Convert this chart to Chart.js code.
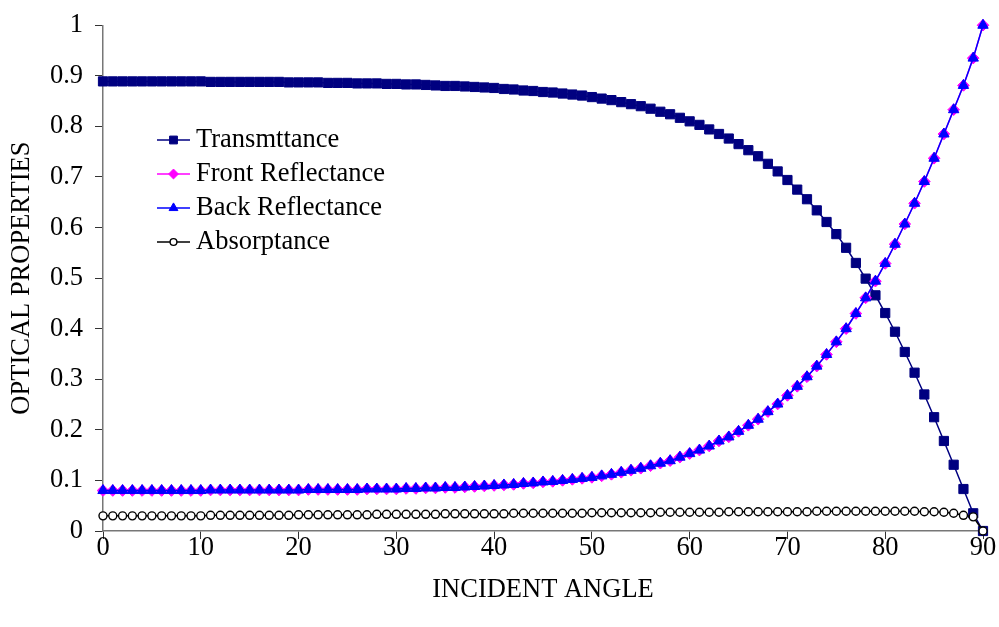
<!DOCTYPE html>
<html>
<head>
<meta charset="utf-8">
<script src="https://cdn.jsdelivr.net/npm/chart.js@4"></script>
<style>
  html, body { margin: 0; padding: 0; background: #fff; }
  #wrap { width: 999px; height: 627px; position: relative; }
</style>
</head>
<body>
<div id="wrap"><canvas id="c" width="999" height="627"></canvas></div>
<script>
// Incident angle in degrees
const incidentAngle = [
  0, 1, 2, 3, 4, 5, 6, 7, 8, 9,
  10, 11, 12, 13, 14, 15, 16, 17, 18, 19,
  20, 21, 22, 23, 24, 25, 26, 27, 28, 29,
  30, 31, 32, 33, 34, 35, 36, 37, 38, 39,
  40, 41, 42, 43, 44, 45, 46, 47, 48, 49,
  50, 51, 52, 53, 54, 55, 56, 57, 58, 59,
  60, 61, 62, 63, 64, 65, 66, 67, 68, 69,
  70, 71, 72, 73, 74, 75, 76, 77, 78, 79,
  80, 81, 82, 83, 84, 85, 86, 87, 88, 89,
  90
];

const transmittance = [
  0.889, 0.889, 0.889, 0.889, 0.889, 0.889, 0.889, 0.889, 0.889, 0.889,
  0.889, 0.888, 0.888, 0.888, 0.888, 0.888, 0.888, 0.888, 0.888, 0.887,
  0.887, 0.887, 0.887, 0.886, 0.886, 0.886, 0.885, 0.885, 0.885, 0.884,
  0.884, 0.883, 0.883, 0.882, 0.881, 0.880, 0.880, 0.879, 0.878, 0.877,
  0.876, 0.874, 0.873, 0.871, 0.870, 0.868, 0.867, 0.865, 0.863, 0.861,
  0.858, 0.855, 0.852, 0.848, 0.844, 0.840, 0.835, 0.829, 0.824, 0.817,
  0.810, 0.803, 0.794, 0.785, 0.776, 0.765, 0.753, 0.741, 0.726, 0.711,
  0.694, 0.675, 0.656, 0.634, 0.611, 0.587, 0.560, 0.530, 0.499, 0.466,
  0.431, 0.394, 0.354, 0.313, 0.270, 0.225, 0.178, 0.131, 0.083, 0.035,
  0.000
];

const frontReflectance = [
  0.080, 0.080, 0.080, 0.080, 0.080, 0.080, 0.080, 0.080, 0.080, 0.080,
  0.080, 0.081, 0.081, 0.081, 0.081, 0.081, 0.081, 0.081, 0.081, 0.081,
  0.081, 0.082, 0.082, 0.082, 0.082, 0.082, 0.082, 0.083, 0.083, 0.083,
  0.083, 0.084, 0.084, 0.085, 0.085, 0.086, 0.086, 0.087, 0.088, 0.089,
  0.090, 0.091, 0.092, 0.094, 0.095, 0.097, 0.098, 0.100, 0.102, 0.104,
  0.106, 0.109, 0.112, 0.116, 0.120, 0.124, 0.129, 0.134, 0.139, 0.146,
  0.153, 0.160, 0.168, 0.178, 0.186, 0.197, 0.209, 0.221, 0.236, 0.251,
  0.268, 0.286, 0.305, 0.326, 0.349, 0.374, 0.400, 0.430, 0.461, 0.494,
  0.529, 0.567, 0.607, 0.648, 0.691, 0.737, 0.785, 0.833, 0.881, 0.935,
  1.000
];

const backReflectance = [
  0.080, 0.080, 0.080, 0.080, 0.080, 0.080, 0.080, 0.080, 0.080, 0.080,
  0.080, 0.081, 0.081, 0.081, 0.081, 0.081, 0.081, 0.081, 0.081, 0.081,
  0.081, 0.082, 0.082, 0.082, 0.082, 0.082, 0.082, 0.083, 0.083, 0.083,
  0.083, 0.084, 0.084, 0.085, 0.085, 0.086, 0.086, 0.087, 0.088, 0.089,
  0.090, 0.091, 0.092, 0.094, 0.095, 0.097, 0.098, 0.100, 0.102, 0.104,
  0.106, 0.109, 0.112, 0.116, 0.120, 0.124, 0.129, 0.134, 0.139, 0.146,
  0.153, 0.160, 0.168, 0.178, 0.186, 0.197, 0.209, 0.221, 0.236, 0.251,
  0.268, 0.286, 0.305, 0.326, 0.349, 0.374, 0.400, 0.430, 0.461, 0.494,
  0.529, 0.567, 0.607, 0.648, 0.691, 0.737, 0.785, 0.833, 0.881, 0.935,
  1.000
];

const absorptance = [
  0.030, 0.030, 0.030, 0.030, 0.030, 0.030, 0.030, 0.030, 0.030, 0.030,
  0.030, 0.031, 0.031, 0.031, 0.031, 0.031, 0.031, 0.031, 0.031, 0.031,
  0.032, 0.032, 0.032, 0.032, 0.032, 0.032, 0.032, 0.032, 0.033, 0.033,
  0.033, 0.033, 0.033, 0.033, 0.033, 0.034, 0.034, 0.034, 0.034, 0.034,
  0.034, 0.034, 0.035, 0.035, 0.035, 0.035, 0.035, 0.035, 0.035, 0.035,
  0.036, 0.036, 0.036, 0.036, 0.036, 0.036, 0.036, 0.037, 0.037, 0.037,
  0.037, 0.037, 0.037, 0.037, 0.038, 0.038, 0.038, 0.038, 0.038, 0.038,
  0.038, 0.038, 0.038, 0.039, 0.039, 0.039, 0.039, 0.039, 0.039, 0.039,
  0.039, 0.039, 0.039, 0.039, 0.038, 0.038, 0.037, 0.035, 0.031, 0.028,
  0.000
];

const seriesNames = ['Transmttance', 'Front Reflectance', 'Back Reflectance', 'Absorptance'];
const xTickValues = [0, 10, 20, 30, 40, 50, 60, 70, 80, 90];
const yTickValues = [0, 0.1, 0.2, 0.3, 0.4, 0.5, 0.6, 0.7, 0.8, 0.9, 1];
const xTitle = 'INCIDENT ANGLE';
const yTitle = 'OPTICAL PROPERTIES';

const FONT_FAMILY = '"Liberation Serif", "Times New Roman", Times, serif';
const FONT_SIZE = 26.5;

const toPoints = values => incidentAngle.map((a, i) => ({ x: a, y: values[i] }));

// Legend drawn inside the plot area, using each dataset's own styling
const insideLegend = {
  id: 'insideLegend',
  afterDraw(chart, args, opts) {
    const ctx = chart.ctx;
    ctx.save();
    ctx.font = FONT_SIZE + 'px ' + FONT_FAMILY;
    ctx.textBaseline = 'middle';
    ctx.textAlign = 'left';
    chart.data.datasets.forEach((ds, i) => {
      const y = opts.y + i * opts.rowGap;
      ctx.beginPath();
      ctx.strokeStyle = ds.borderColor;
      ctx.lineWidth = ds.borderWidth;
      ctx.moveTo(opts.x, y);
      ctx.lineTo(opts.x + opts.lineLen, y);
      ctx.stroke();
      ctx.fillStyle = ds.pointBackgroundColor;
      ctx.strokeStyle = ds.pointBorderColor;
      ctx.lineWidth = ds.pointBorderWidth;
      Chart.helpers.drawPoint(ctx, {
        pointStyle: ds.pointStyle,
        radius: ds.pointRadius * 0.85,
        borderWidth: ds.pointBorderWidth,
        rotation: 0
      }, opts.x + opts.lineLen / 2, y);
      ctx.fillStyle = '#000';
      ctx.fillText(ds.label, opts.x + opts.lineLen + opts.gap, y);
    });
    ctx.restore();
  }
};

const datasets = [
  {
    label: seriesNames[0],
    data: toPoints(transmittance),
    borderColor: '#000080',
    borderWidth: 1.5,
    pointStyle: 'rect',
    pointRadius: 6.5,
    pointBackgroundColor: '#000080',
    pointBorderColor: '#000080',
    pointBorderWidth: 1,
    order: 3
  },
  {
    label: seriesNames[1],
    data: toPoints(frontReflectance),
    borderColor: '#FF00FF',
    borderWidth: 1.5,
    pointStyle: 'rectRot',
    pointRadius: 5.8,
    pointBackgroundColor: '#FF00FF',
    pointBorderColor: '#FF00FF',
    pointBorderWidth: 1,
    order: 2
  },
  {
    label: seriesNames[2],
    data: toPoints(backReflectance),
    borderColor: '#0000FF',
    borderWidth: 1.5,
    pointStyle: 'triangle',
    pointRadius: 6,
    pointBackgroundColor: '#0000FF',
    pointBorderColor: '#0000FF',
    pointBorderWidth: 1,
    order: 1
  },
  {
    label: seriesNames[3],
    data: toPoints(absorptance),
    borderColor: '#000000',
    borderWidth: 1.5,
    pointStyle: 'circle',
    pointRadius: 4,
    pointBackgroundColor: '#FFFFFF',
    pointBorderColor: '#000000',
    pointBorderWidth: 1.4,
    order: 0
  }
];
datasets.forEach(ds => { ds.tension = 0; ds.clip = false; ds.fill = false; });

new Chart(document.getElementById('c'), {
  type: 'line',
  data: { datasets },
  plugins: [insideLegend],
  options: {
    responsive: false,
    animation: false,
    devicePixelRatio: 1,
    layout: { padding: { left: 0, right: 16, top: 23, bottom: 0 } },
    plugins: {
      legend: { display: false },
      tooltip: { enabled: false },
      insideLegend: { x: 157, y: 140, rowGap: 34, lineLen: 33, gap: 6 }
    },
    scales: {
      x: {
        type: 'linear',
        min: 0,
        max: 90,
        afterBuildTicks: s => { s.ticks = xTickValues.map(v => ({ value: v })); },
        afterFit: s => { s.height = 96; },
        border: { display: true, color: '#777', width: 1.5 },
        grid: { drawOnChartArea: false, drawTicks: true, tickLength: 8, color: '#333', lineWidth: 1 },
        ticks: {
          color: '#000',
          padding: -4,
          maxRotation: 0,
          font: { family: FONT_FAMILY, size: FONT_SIZE, lineHeight: 1 }
        },
        title: {
          display: true,
          text: xTitle,
          color: '#000',
          padding: { top: 0, bottom: 24 },
          font: { family: FONT_FAMILY, size: FONT_SIZE, lineHeight: 1 }
        }
      },
      y: {
        min: 0,
        max: 1,
        afterBuildTicks: s => { s.ticks = yTickValues.map(v => ({ value: v })); },
        afterFit: s => { s.width = 103; },
        border: { display: true, color: '#777', width: 1.5 },
        grid: { drawOnChartArea: false, drawTicks: true, tickLength: 8, color: '#333', lineWidth: 1 },
        ticks: {
          color: '#000',
          padding: 12,
          callback: v => String(Math.round(v * 10) / 10),
          font: { family: FONT_FAMILY, size: FONT_SIZE, lineHeight: 1 }
        },
        title: {
          display: true,
          text: yTitle,
          color: '#000',
          padding: { top: 9, bottom: 0 },
          font: { family: FONT_FAMILY, size: FONT_SIZE, lineHeight: 1 }
        }
      }
    }
  }
});
</script>
</body>
</html>
